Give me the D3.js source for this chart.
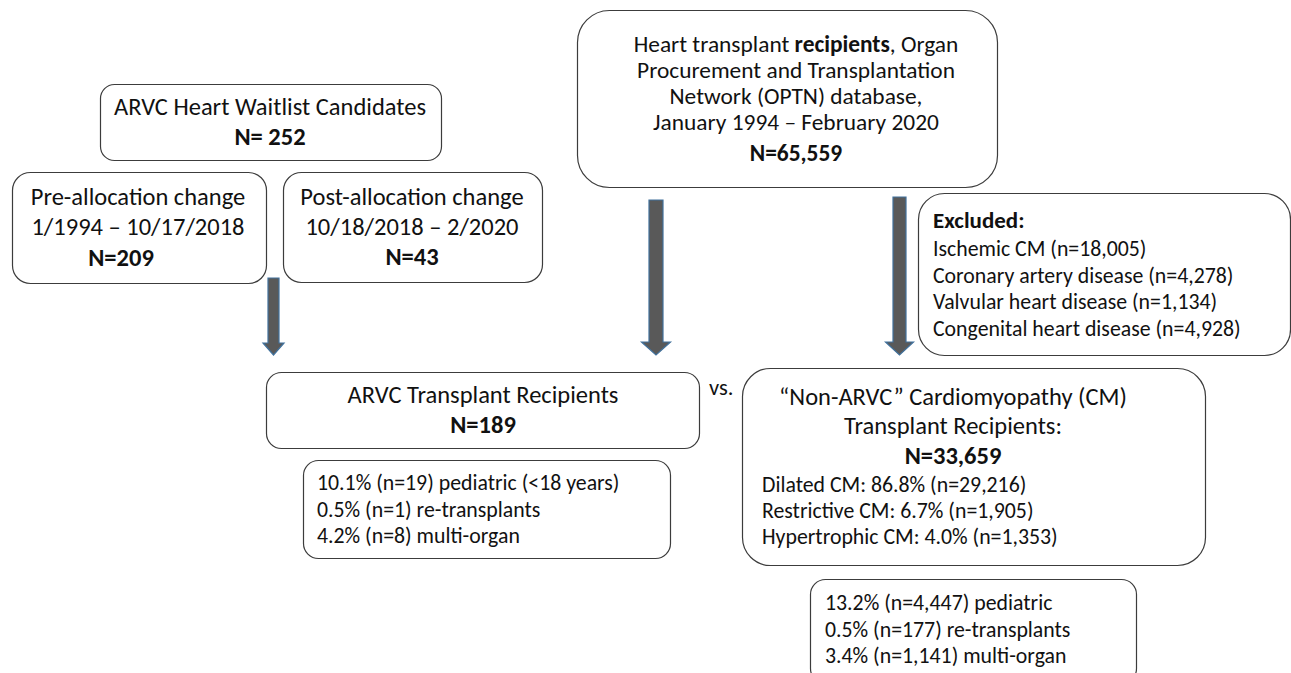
<!DOCTYPE html>
<html>
<head>
<meta charset="utf-8">
<script src="https://cdn.jsdelivr.net/npm/d3@7"></script>
<style>
  html, body { margin: 0; padding: 0; background: #ffffff; }
  svg { display: block; }
  text { font-family: Carlito, Lato, "Open Sans", sans-serif; fill: #111; }
</style>
</head>
<body>
<svg id="chart" width="1291" height="673"></svg>
<script>
// ---------- DATA ----------
const waitlistTitle = ["ARVC Heart Waitlist Candidates"];
const waitlistN = "N= 252";
const preTitle = ["Pre-allocation change", "1/1994 \u2013 10/17/2018"];
const preN = "N=209";
const postTitle = ["Post-allocation change", "10/18/2018 \u2013 2/2020"];
const postN = "N=43";
const optnTitle = [
  [{t: "Heart transplant "}, {t: "recipients", b: true}, {t: ", Organ"}],
  [{t: "Procurement and Transplantation"}],
  [{t: "Network (OPTN) database,"}],
  [{t: "January 1994 \u2013 February 2020"}]
];
const optnN = "N=65,559";
const excludedHeader = "Excluded:";
const excludedCauses = ["Ischemic CM", "Coronary artery disease", "Valvular heart disease", "Congenital heart disease"];
const excludedCounts = ["18,005", "4,278", "1,134", "4,928"];
const arvcTitle = ["ARVC Transplant Recipients"];
const arvcN = "N=189";
const arvcStats = ["10.1% (n=19) pediatric (<18 years)", "0.5% (n=1) re-transplants", "4.2% (n=8) multi-organ"];
const nonTitle = ["\u201CNon-ARVC\u201D Cardiomyopathy (CM)", "Transplant Recipients:"];
const nonN = "N=33,659";
const nonTypes = ["Dilated CM", "Restrictive CM", "Hypertrophic CM"];
const nonPct = ["86.8%", "6.7%", "4.0%"];
const nonCounts = ["29,216", "1,905", "1,353"];
const nonStats = ["13.2% (n=4,447) pediatric", "0.5% (n=177) re-transplants", "3.4% (n=1,141) multi-organ"];
const vsLabel = "vs.";

// ---------- LAYOUT ----------
const FS = 24.5, FSo = 23.4, FSs = 21.8;
const boxes = [
  {x: 100, y: 84,  w: 341, h: 76,  r: 14},
  {x: 12,  y: 172, w: 254, h: 111, r: 18},
  {x: 283, y: 172, w: 259, h: 110, r: 18},
  {x: 577, y: 10,  w: 420, h: 177, r: 32},
  {x: 918, y: 193, w: 372, h: 162, r: 26},
  {x: 266, y: 372, w: 433, h: 76,  r: 15},
  {x: 303, y: 460, w: 367, h: 98,  r: 15},
  {x: 742, y: 368, w: 463, h: 197, r: 28},
  {x: 810, y: 579, w: 326, h: 104, r: 15}
];
const arrows = [
  {cx: 273.5, top: 278, tip: 355, sw: 11, hw: 21, hh: 12},
  {cx: 656,   top: 200, tip: 355, sw: 14, hw: 29, hh: 13},
  {cx: 899.5, top: 197, tip: 355, sw: 13, hw: 28, hh: 13}
];

const svg = d3.select("#chart");

// boxes
svg.append("g").selectAll("rect").data(boxes).join("rect")
  .attr("x", d => d.x + 0.5).attr("y", d => d.y + 0.5)
  .attr("width", d => d.w).attr("height", d => d.h)
  .attr("rx", d => d.r).attr("ry", d => d.r)
  .attr("fill", "#fff").attr("stroke", "#3c3c3c").attr("stroke-width", 1.2);

// arrows
const arrowPath = a => {
  const p = d3.path();
  const hb = a.tip - a.hh;
  p.moveTo(a.cx - a.sw / 2, a.top);
  p.lineTo(a.cx + a.sw / 2, a.top);
  p.lineTo(a.cx + a.sw / 2, hb);
  p.lineTo(a.cx + a.hw / 2, hb);
  p.lineTo(a.cx, a.tip);
  p.lineTo(a.cx - a.hw / 2, hb);
  p.lineTo(a.cx - a.sw / 2, hb);
  p.closePath();
  return p.toString();
};
svg.append("g").selectAll("path").data(arrows).join("path")
  .attr("d", arrowPath)
  .attr("fill", "#595959").attr("stroke", "#41719C").attr("stroke-width", 1.2);

// text helpers
function addLine(x, y, segs, opts = {}) {
  const t = svg.append("text")
    .attr("x", x).attr("y", y)
    .attr("text-anchor", opts.anchor || "middle")
    .attr("font-size", opts.size || FS)
    .attr("font-weight", opts.bold ? 700 : 400);
  (typeof segs === "string" ? [{t: segs}] : segs).forEach(s => {
    t.append("tspan").text(s.t).attr("font-weight", s.b || opts.bold ? 700 : 400);
  });
  return t;
}
function addLines(x, ys, lines, opts) {
  lines.forEach((l, i) => addLine(x, ys[i], l, opts));
}

// waitlist
addLines(270, [115], waitlistTitle);
addLine(270, 145, waitlistN, {bold: true});
// pre
addLines(138, [205, 235], preTitle);
addLine(121, 266, preN, {bold: true});
// post
addLines(412, [205, 235], postTitle);
addLine(412, 265, postN, {bold: true});
// OPTN
addLines(796, [52, 78, 104, 130], optnTitle, {size: FSo});
addLine(796, 161, optnN, {bold: true, size: FSo});
// excluded
addLine(933, 228, excludedHeader, {anchor: "start", bold: true, size: 23});
excludedCauses.forEach((c, i) =>
  addLine(933, 256 + i * 26.5, `${c} (n=${excludedCounts[i]})`, {anchor: "start", size: FSs}));
// ARVC recipients
addLines(483, [403], arvcTitle);
addLine(483, 433, arvcN, {bold: true});
// vs
addLine(709, 395, vsLabel, {anchor: "start", size: 22.5});
// ARVC stats
arvcStats.forEach((s, i) => addLine(317, 490 + i * 26.5, s, {anchor: "start", size: FSs}));
// Non-ARVC
addLines(953, [405, 434], nonTitle);
addLine(953, 464, nonN, {bold: true});
nonTypes.forEach((s, i) =>
  addLine(762, 492 + i * 26, `${s}: ${nonPct[i]} (n=${nonCounts[i]})`, {anchor: "start", size: FSs}));
// Non stats
nonStats.forEach((s, i) => addLine(825, 610 + i * 26.5, s, {anchor: "start", size: FSs}));
</script>
</body>
</html>
